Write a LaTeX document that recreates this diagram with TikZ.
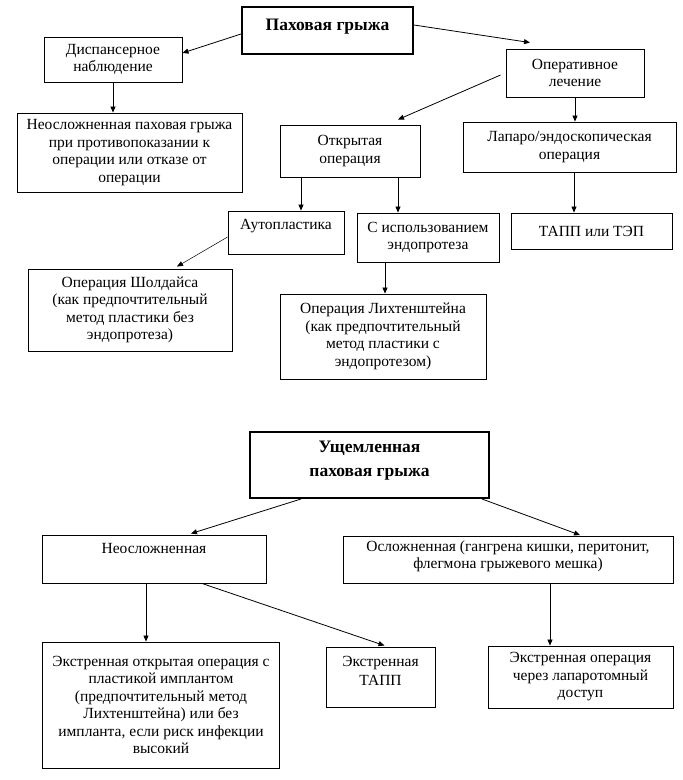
\documentclass[tikz,border=0pt]{standalone}
\usepackage{fontspec}
\setmainfont{Liberation Serif}
\usetikzlibrary{arrows.meta}

\begin{document}
\begin{tikzpicture}[x=1pt,y=-1pt,>={Triangle[length=6pt,width=5pt]},
  box/.style={draw,line width=0.9pt,align=center,inner sep=2pt,font=\fontsize{15.5}{17.5}\selectfont},
  mainbox/.style={box,line width=2pt,font=\fontsize{17.5}{24}\selectfont\bfseries},
  wh/.style 2 args={minimum width=#1pt,minimum height=#2pt},
  link/.style={->,line width=0.8pt}]
\useasboundingbox (0,0) rectangle (683,780);
\node[mainbox,wh={171}{47},text depth=12pt] (hernia) at (327.5,30.5) {Паховая грыжа};
\node[box,wh={138}{45}] (followup) at (113,59.5) {Диспансерное\\наблюдение};
\node[box,wh={138}{48}] (surgery) at (575,73) {Оперативное\\лечение};
\node[box,wh={225}{79}] (uncompl) at (129.5,152.5) {Неосложненная паховая грыжа\\при противопоказании к\\операции или отказе от\\операции};
\node[box,wh={140}{52}] (openop) at (350,151) {Открытая\\операция};
\node[box,wh={213}{50}] (laparo) at (569.5,147) {Лапаро/эндоскопическая\\операция};
\node[box,wh={116}{43},text depth=17pt] (autopl) at (286,232.5) {Аутопластика};
\node[box,wh={142}{49}] (mesh) at (428,237.5) {С использованием\\эндопротеза};
\node[box,wh={161}{36}] (tapp) at (591.5,231) {ТАПП или ТЭП};
\node[box,wh={204}{82}] (shouldice) at (130,310) {Операция Шолдайса\\(как предпочтительный\\метод пластики без\\эндопротеза)};
\node[box,wh={206}{85}] (lichten) at (383,336.5) {Операция Лихтенштейна\\(как предпочтительный\\метод пластики с\\эндопротезом)};
\draw[link] ([yshift=-3.5pt]hernia.west) -- ([yshift=6.5pt]followup.east);
\draw[link] ([yshift=5.5pt]hernia.east) -- ([xshift=-45pt,yshift=6pt]surgery.north);
\draw[link] (followup.south) -- (followup.south |- uncompl.north);
\draw[link] ([xshift=-5pt,yshift=-2pt]surgery.west) -- ([xshift=48pt,yshift=5pt]openop.north);
\draw[link] (surgery.south) -- (surgery.south |- laparo.north);
\draw[link] ([xshift=-49pt]openop.south) -- ([xshift=-49pt]openop.south |- autopl.north);
\draw[link] ([xshift=48pt]openop.south) -- ([xshift=48pt]openop.south |- mesh.north);
\draw[link] ([xshift=4.5pt]laparo.south) -- ([xshift=4.5pt]laparo.south |- tapp.north);
\draw[->,line width=0.5pt] ([yshift=-4.5pt]autopl.west) -- ([xshift=47pt,yshift=2pt]shouldice.north);
\draw[link] ([xshift=-43pt]mesh.south) -- ([xshift=-43pt]mesh.south |- lichten.north);

\node[mainbox,wh={239}{66},text depth=12pt] (strang) at (369.5,465) {Ущемленная\\паховая грыжа};
\node[box,wh={224}{48},text depth=21pt] (simple) at (154,559) {Неосложненная};
\node[box,wh={330}{47},text depth=11pt] (compl) at (508,560) {Осложненная (гангрена кишки, перитонит,\\флегмона грыжевого мешка)};
\node[box,wh={237}{126}] (emopen) at (161,705) {Экстренная открытая операция с\\пластикой имплантом\\(предпочтительный метод\\Лихтенштейна) или без\\импланта, если риск инфекции\\высокий};
\node[box,wh={109}{60},text depth=13pt,font=\fontsize{15.5}{19}\selectfont] (emtapp) at (380.5,677) {Экстренная\\ТАПП};
\node[box,wh={185}{62}] (emlap) at (580.5,677) {Экстренная операция\\через лапаротомный\\доступ};
\draw[link] ([xshift=-68.5pt]strang.south) -- ([xshift=37pt,yshift=1pt]simple.north);
\draw[link] ([xshift=112.5pt]strang.south) -- ([xshift=72pt,yshift=1pt]compl.north);
\draw[link] ([xshift=-8pt]simple.south) -- ([xshift=-8pt]simple.south |- emopen.north);
\draw[link] ([xshift=48pt]simple.south) -- ([xshift=4pt,yshift=1pt]emtapp.north);
\draw[link] ([xshift=42pt]compl.south) -- ([xshift=42pt]compl.south |- emlap.north);
\end{tikzpicture}
\end{document}
